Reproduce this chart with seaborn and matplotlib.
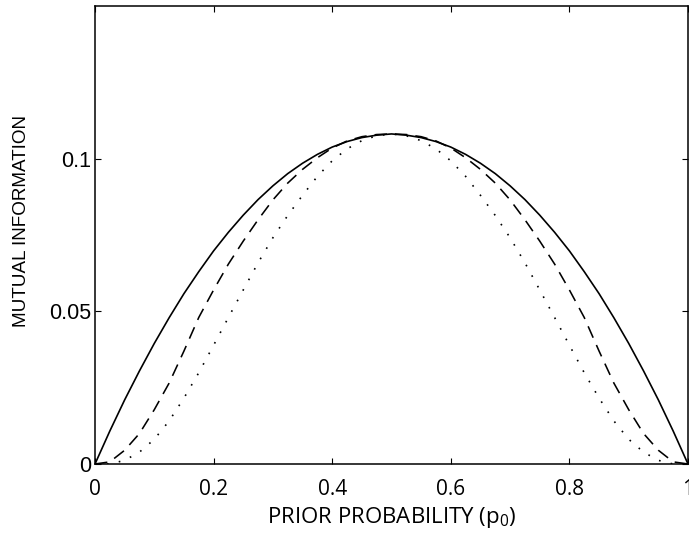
import numpy as np
import pandas as pd
import matplotlib
matplotlib.use("Agg")
import matplotlib.pyplot as plt
import seaborn as sns

# ---- data ----
p0 = [0.000, 0.025, 0.050, 0.075, 0.100, 0.125, 0.150, 0.175, 0.200, 0.225,
      0.250, 0.275, 0.300, 0.325, 0.350, 0.375, 0.400, 0.425, 0.450, 0.475,
      0.500, 0.525, 0.550, 0.575, 0.600, 0.625, 0.650, 0.675, 0.700, 0.725,
      0.750, 0.775, 0.800, 0.825, 0.850, 0.875, 0.900, 0.925, 0.950, 0.975,
      1.000]

mi_solid = [0.0000, 0.0108, 0.0210, 0.0305, 0.0395, 0.0479, 0.0558, 0.0630, 0.0698, 0.0759,
            0.0815, 0.0866, 0.0911, 0.0951, 0.0985, 0.1014, 0.1038, 0.1056, 0.1069, 0.1077,
            0.1081, 0.1077, 0.1069, 0.1056, 0.1038, 0.1014, 0.0985, 0.0951, 0.0911, 0.0866,
            0.0815, 0.0759, 0.0698, 0.0630, 0.0558, 0.0479, 0.0395, 0.0305, 0.0210, 0.0108,
            0.0000]

mi_dashed = [0.0000, 0.0007, 0.0045, 0.0100, 0.0178, 0.0265, 0.0370, 0.0480, 0.0570, 0.0655,
             0.0730, 0.0800, 0.0865, 0.0920, 0.0965, 0.1003, 0.1035, 0.1058, 0.1072, 0.1079,
             0.1081, 0.1079, 0.1072, 0.1058, 0.1035, 0.1003, 0.0965, 0.0920, 0.0865, 0.0800,
             0.0730, 0.0655, 0.0570, 0.0480, 0.0370, 0.0265, 0.0178, 0.0100, 0.0045, 0.0007,
             0.0000]

mi_dotted = [0.0000, 0.0000, 0.0012, 0.0039, 0.0081, 0.0141, 0.0216, 0.0299, 0.0389, 0.0480,
             0.0570, 0.0659, 0.0741, 0.0814, 0.0880, 0.0942, 0.0993, 0.1032, 0.1059, 0.1075,
             0.1081, 0.1075, 0.1059, 0.1032, 0.0993, 0.0942, 0.0880, 0.0814, 0.0741, 0.0659,
             0.0570, 0.0480, 0.0389, 0.0299, 0.0216, 0.0141, 0.0081, 0.0039, 0.0012, 0.0000,
             0.0000]

x_ticks = [0, 0.2, 0.4, 0.6, 0.8, 1.0]
x_tick_labels = ["0", "0.2", "0.4", "0.6", "0.8", "1"]
y_ticks = [0, 0.05, 0.1]
y_tick_labels = ["0", "0.05", "0.1"]

# ---- styling ----
sns.set_theme(style="white")
plt.rcParams["font.family"] = ["Open Sans", "DejaVu Sans"]
plt.rcParams["mathtext.default"] = "regular"

W, H = 689, 536
fig = plt.figure(figsize=(W / 100, H / 100), dpi=100)
ax = fig.add_axes([95 / W, (H - 464) / H, 593 / W, 458 / H])

df = pd.DataFrame({"p": p0, "solid": mi_solid, "dashed": mi_dashed, "dotted": mi_dotted})

sns.lineplot(data=df, x="p", y="solid", ax=ax, color="black", linewidth=1.2,
             linestyle="-")
sns.lineplot(data=df, x="p", y="dashed", ax=ax, color="black", linewidth=1.15,
             linestyle=(0, (7.8, 5.0)))
sns.lineplot(data=df, x="p", y="dotted", ax=ax, color="black", linewidth=1.2,
             linestyle=(0, (1.0, 6.2)))

ax.set_xlim(0, 1)
ax.set_ylim(0, 0.15)
ax.set_xticks(x_ticks)
ax.set_xticklabels(x_tick_labels, fontsize=15, family=["Open Sans", "DejaVu Sans"])
ax.set_yticks(y_ticks)
ax.set_yticklabels(y_tick_labels, fontsize=15.5, family=["Liberation Sans", "DejaVu Sans"])

ax.tick_params(axis="both", direction="in", length=4, width=0.8, colors="black",
               top=True, right=True, bottom=True, left=True)
ax.tick_params(axis="x", pad=10.5)
ax.tick_params(axis="y", pad=3)

for s in ax.spines.values():
    s.set_visible(True)
    s.set_color("black")
    s.set_linewidth(1.1)

ax.set_xlabel(r"PRIOR PROBABILITY (p$_{0}$)", fontsize=16,
              family=["Open Sans", "DejaVu Sans"], color="black")
ax.xaxis.label.set_va("baseline")
ax.xaxis.set_label_coords(0.5, (464 - 522.7) / 458)

ax.set_ylabel("MUTUAL INFORMATION", fontsize=13.6,
              family=["Liberation Sans", "DejaVu Sans"], color="black")
ax.yaxis.set_label_coords((30.5 - 95) / 593, (464 - 221) / 458)

fig.savefig("out.png", dpi=100)
